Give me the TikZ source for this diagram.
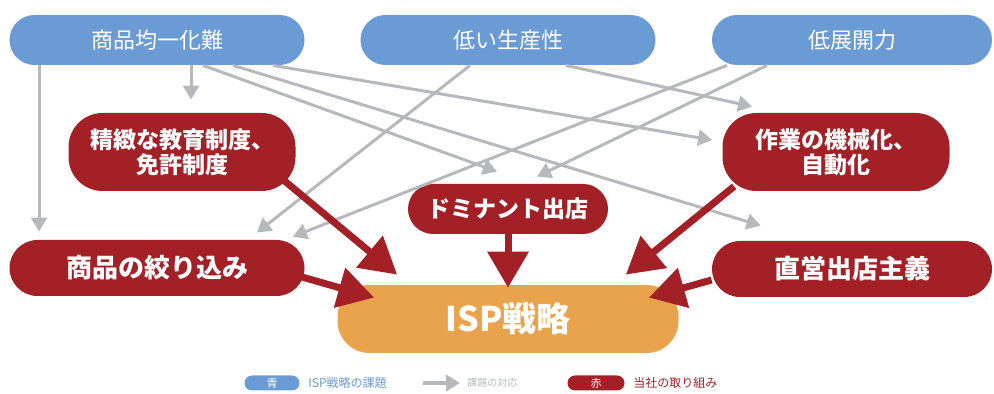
\documentclass[tikz,border=0pt]{standalone}
\usepackage{fontspec}
\setmainfont{Noto Sans CJK JP}
\usepackage{tikz}
\usetikzlibrary{arrows.meta}
\usetikzlibrary{calc}

\definecolor{isblue}{RGB}{106,155,212}
\definecolor{isred}{RGB}{163,32,38}
\definecolor{isorange}{RGB}{232,163,76}
\definecolor{isgray}{RGB}{182,184,190}

\begin{document}
\begin{tikzpicture}[x=0.5pt,y=-0.5pt,>/.tip={Triangle[length=7pt,width=8pt]},
	issue/.style={fill=isblue,text=white,rounded corners=12.5pt,inner sep=0pt,minimum height=25pt,font=\fontsize{11}{13}\selectfont},
	effort/.style={fill=isred,text=white,rounded corners=14pt,inner sep=0pt,align=center,font=\bfseries\fontsize{11.5}{12.6}\selectfont},
	garrow/.style={->,draw=isgray,line width=1.5pt},
	rarrow/.style={-{Triangle[length=18pt,width=20pt]},draw=isred,line width=3.5pt}]
	\useasboundingbox (0,0) rectangle (994,394);
	\draw (157,40) node (b1) [issue,minimum width=147.5pt] {商品均一化難};
	\draw (508,40) node (b2) [issue,minimum width=147.5pt] {低い生産性};
	\draw (852,40) node (b3) [issue,minimum width=140pt] {低展開力};
	\draw (182,152) node (r1) [effort,minimum width=113.5pt,minimum height=39pt,rounded corners=17pt] {精緻な教育制度、\\免許制度};
	\draw (836,152) node (r2) [effort,minimum width=113.5pt,minimum height=39pt,rounded corners=17pt] {作業の機械化、\\自動化};
	\draw (508,209) node (r3) [effort,minimum width=100pt,minimum height=25pt,rounded corners=12.5pt] {ドミナント出店};
	\draw (157,268) node (r4) [effort,minimum width=147.5pt,minimum height=28pt,font=\bfseries\fontsize{13}{15}\selectfont] {商品の絞り込み};
	\draw (852,269) node (r5) [effort,minimum width=140pt,minimum height=28pt,font=\bfseries\fontsize{13}{15}\selectfont] {直営出店主義};
	\draw (508,319) node (isp) [fill=isorange,text=white,rounded corners=16pt,inner sep=0pt,minimum width=170.5pt,minimum height=34pt,font=\bfseries\fontsize{17}{20}\selectfont] {ISP戦略};

	\draw[garrow] ($(b1.south)+(-118,0)$) -- ($(r4.north)+(-118,-8)$);
	\draw[garrow] ($(b1.south)+(34,0)$) -- ($(r1.north)+(9,-13)$);
	\draw[garrow] ($(b1.south)+(46,0)$) -- ($(r3.north)+(-11,-12)$);
	\draw[garrow] ($(b1.south)+(76,0)$) -- ($(r5.north west)+(49,-15)$);
	\draw[garrow] ($(b1.south)+(116,0)$) -- ($(r2.west)+(-10,-12)$);
	\draw[garrow] ($(b2.south)+(58,0)$) -- ($(r2.north west)+(30,-6)$);
	\draw[garrow] ($(b2.south)+(-38,0)$) -- ($(r4.north east)+(-48,-7)$);
	\draw[garrow] ($(b3.south)+(-125,0)$) -- ($(r4.north east)+(-12,-3)$);
	\draw[garrow] ($(b3.south)+(-85,0)$) -- ($(r3.north)+(29,-7)$);

	\draw[rarrow] ($(r1.south east)+(-12,-11)$) -- ($(isp.north west)+(60,-10)$);
	\draw[rarrow] ($(r4.east)+(-3,9)$) -- ($(isp.north west)+(37,13)$);
	\draw[rarrow] (r3.south) -- ($(isp.north)+(0,3)$);
	\draw[rarrow] ($(r2.south west)+(12,-5)$) -- ($(isp.north east)+(-53,-10)$);
	\draw[rarrow] ($(r5.west)+(0,11)$) -- ($(isp.north east)+(-30,13)$);

	\draw (272,383) node (keyb) [issue,minimum width=27.5pt,minimum height=7.5pt,rounded corners=3.75pt,font=\fontsize{5.5}{6}\selectfont] {青};
	\node (keybt) [right,inner sep=0pt,text=isblue,font=\fontsize{6}{7}\selectfont] at (308,383) {ISP戦略の課題};
	\coordinate (keya1) at (423,383);
	\coordinate (keya2) at (460,383);
	\draw[garrow,line width=2pt] (keya1) -- (keya2);
	\node (keyat) [right,inner sep=0pt,text=isgray,font=\fontsize{5}{6}\selectfont] at (467,383) {課題の対応};
	\draw (596,383) node (keyr) [effort,minimum width=28.5pt,minimum height=7.5pt,rounded corners=3.75pt,font=\fontsize{5.5}{6}\selectfont] {赤};
	\node (keyrt) [right,inner sep=0pt,text=isred,font=\fontsize{6}{7}\selectfont] at (633,383) {当社の取り組み};
\end{tikzpicture}
\end{document}
